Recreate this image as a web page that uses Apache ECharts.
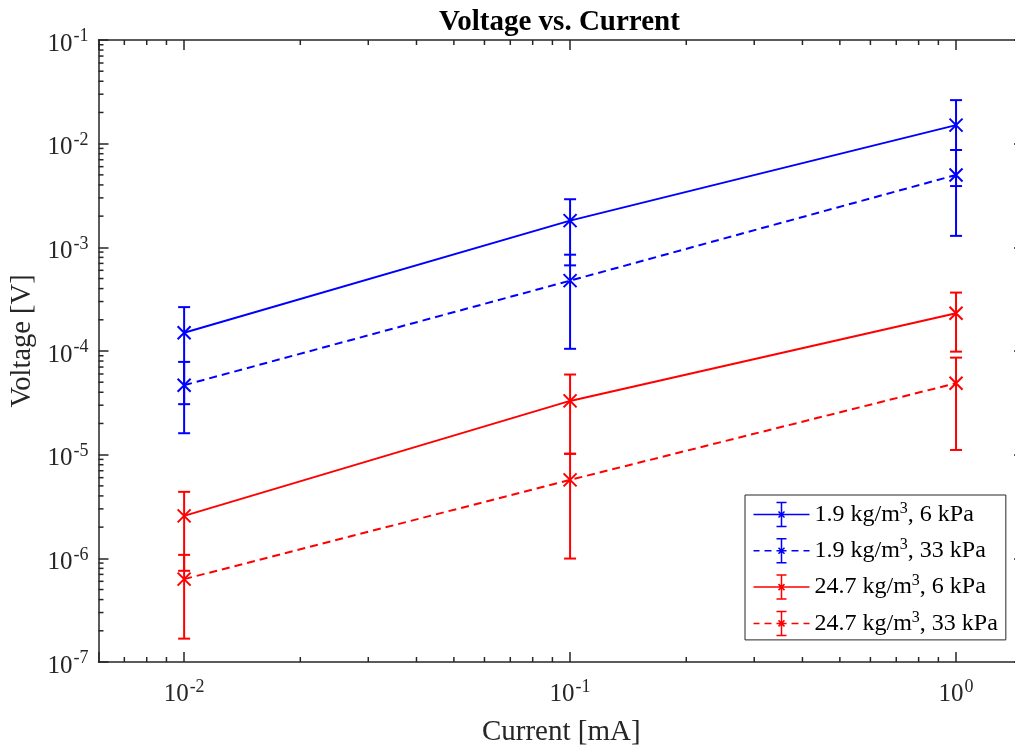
<!DOCTYPE html>
<html>
<head>
<meta charset="utf-8">
<script src="https://cdn.jsdelivr.net/npm/echarts@6/dist/echarts.min.js"></script>
<style>
  html, body { margin: 0; padding: 0; background: #fff; }
  #chart { width: 1015px; height: 745px; }
</style>
</head>
<body>
<div id="chart"></div>
<script>
// current [mA]
var current = [0.01, 0.1, 1];

// 1.9 kg/m3, 6 kPa
var v1 = [1.5e-4, 1.81e-3, 1.51e-2];
var v1Low = [3.07e-5, 6.7e-4, 3.9e-3];
var v1High = [2.65e-4, 2.91e-3, 2.63e-2];

// 1.9 kg/m3, 33 kPa
var v2 = [4.68e-5, 4.77e-4, 4.99e-3];
var v2Low = [1.61e-5, 1.05e-4, 1.29e-3];
var v2High = [7.85e-5, 8.49e-4, 8.69e-3];

// 24.7 kg/m3, 6 kPa
var v3 = [2.57e-6, 3.3e-5, 2.31e-4];
var v3Low = [7.58e-7, 1.02e-5, 9.86e-5];
var v3High = [4.38e-6, 5.93e-5, 3.66e-4];

// 24.7 kg/m3, 33 kPa
var v4 = [6.3e-7, 5.71e-6, 4.89e-5];
var v4Low = [1.68e-7, 9.95e-7, 1.11e-5];
var v4High = [1.08e-6, 1.02e-5, 8.63e-5];

var seriesNames = ["1.9 kg/m3, 6 kPa", "1.9 kg/m3, 33 kPa", "24.7 kg/m3, 6 kPa", "24.7 kg/m3, 33 kPa"];
var seriesColors = ["#0000ff", "#0000ff", "#ff0000", "#ff0000"];
var seriesDashed = [false, true, false, true];

// axis limits
var xMin = 0.006, xMax = 1.5;
var yMin = 1e-7, yMax = 1e-1;
var minorMantissa = [2, 3, 4, 5, 6, 7, 8, 9];
var xDecades = [0.001, 0.01, 0.1, 1];
var yDecades = [1e-7, 1e-6, 1e-5, 1e-4, 1e-3, 1e-2];

var FONT = "Liberation Serif";
var AXIS_COLOR = "#262626";

var minorX = [];
xDecades.forEach(function (d) {
  minorMantissa.forEach(function (m) {
    var v = m * d;
    if (v > xMin && v < xMax) minorX.push(v);
  });
});
var minorY = [];
yDecades.forEach(function (d) {
  minorMantissa.forEach(function (m) { minorY.push(m * d); });
});

function powLabel(value) {
  var e = Math.log10(value);
  var r = Math.round(e);
  if (Math.abs(e - r) > 1e-6) return "";
  return "{b|10}{s|" + r + "}";
}

var labelRich = {
  b: { fontFamily: FONT, fontSize: 25, color: AXIS_COLOR },
  s: { fontFamily: FONT, fontSize: 18, color: AXIS_COLOR, padding: [0, 0, 15, 1] }
};

function makeAxis(type, pos, min, max, main) {
  var ax = {
    type: "log",
    logBase: 10,
    position: pos,
    min: min,
    max: max,
    axisLine: { show: true, onZero: false, lineStyle: { color: AXIS_COLOR, width: 1.5 } },
    axisTick: { show: true, inside: true, length: 10, lineStyle: { color: AXIS_COLOR, width: 1.5 } },
    splitLine: { show: false },
    minorTick: { show: false },
    axisLabel: { show: false }
  };
  if (main) {
    ax.axisLabel = {
      show: true,
      formatter: powLabel,
      margin: type === "x" ? 16 : 10,
      padding: type === "x" ? 0 : [8, 0, 0, 0],
      rich: labelRich
    };
  }
  return ax;
}

var xBottom = makeAxis("x", "bottom", xMin, xMax, true);
xBottom.name = "Current [mA]";
xBottom.nameLocation = "middle";
xBottom.nameGap = 56;
xBottom.nameTextStyle = { fontFamily: FONT, fontSize: 29, color: AXIS_COLOR };
var xTop = makeAxis("x", "top", xMin, xMax, false);

var yLeft = makeAxis("y", "left", yMin, yMax, true);
yLeft.name = "Voltage [V]";
yLeft.nameLocation = "middle";
yLeft.nameGap = 58;
yLeft.nameTextStyle = { fontFamily: FONT, fontSize: 28.5, color: AXIS_COLOR, padding: [0, 0, 0, 20] };
var yRight = makeAxis("y", "right", yMin, yMax, false);

function renderErrorBar(params, api) {
  var x = api.value(0);
  var lo = api.coord([x, api.value(1)]);
  var hi = api.coord([x, api.value(2)]);
  var hw = 6;
  var style = { stroke: api.visual("color"), lineWidth: 2, fill: null };
  return {
    type: "group",
    children: [
      { type: "line", shape: { x1: lo[0], y1: lo[1], x2: hi[0], y2: hi[1] }, style: style },
      { type: "line", shape: { x1: lo[0] - hw, y1: lo[1], x2: lo[0] + hw, y2: lo[1] }, style: style },
      { type: "line", shape: { x1: hi[0] - hw, y1: hi[1], x2: hi[0] + hw, y2: hi[1] }, style: style }
    ]
  };
}

function renderXMinor(params, api) {
  var v = api.value(0);
  var b = api.coord([v, yMin]);
  var t = api.coord([v, yMax]);
  var style = { stroke: AXIS_COLOR, lineWidth: 1.5 };
  return {
    type: "group",
    children: [
      { type: "line", shape: { x1: b[0], y1: b[1], x2: b[0], y2: b[1] - 5 }, style: style },
      { type: "line", shape: { x1: t[0], y1: t[1], x2: t[0], y2: t[1] + 5 }, style: style }
    ]
  };
}

function renderYMinor(params, api) {
  var v = api.value(1);
  var l = api.coord([xMin, v]);
  var r = api.coord([xMax, v]);
  var style = { stroke: AXIS_COLOR, lineWidth: 1.5 };
  return {
    type: "group",
    children: [
      { type: "line", shape: { x1: l[0], y1: l[1], x2: l[0] + 5, y2: l[1] }, style: style },
      { type: "line", shape: { x1: r[0], y1: r[1], x2: r[0] - 5, y2: r[1] }, style: style }
    ]
  };
}

var values = [v1, v2, v3, v4];
var lows = [v1Low, v2Low, v3Low, v4Low];
var highs = [v1High, v2High, v3High, v4High];

var series = [];
values.forEach(function (vals, k) {
  series.push({
    name: seriesNames[k] + " err",
    type: "custom",
    renderItem: renderErrorBar,
    itemStyle: { color: seriesColors[k] },
    encode: { x: 0, y: [1, 2] },
    data: current.map(function (x, i) { return [x, lows[k][i], highs[k][i]]; }),
    z: 3
  });
  series.push({
    name: seriesNames[k],
    type: "line",
    data: current.map(function (x, i) { return [x, vals[i]]; }),
    symbol: "path://M0,0L10,10M10,0L0,10",
    symbolSize: 13,
    showSymbol: true,
    itemStyle: { color: "none", borderColor: seriesColors[k], borderWidth: 2 },
    lineStyle: { color: seriesColors[k], width: 2, type: seriesDashed[k] ? [8, 5] : "solid" },
    z: 4
  });
});

series.push({
  name: "xminor",
  type: "custom",
  renderItem: renderXMinor,
  data: minorX.map(function (v) { return [v, yMin]; }),
  silent: true,
  z: 2
});
series.push({
  name: "yminor",
  type: "custom",
  renderItem: renderYMinor,
  data: minorY.map(function (v) { return [xMin, v]; }),
  silent: true,
  z: 2
});

var ICON_SOLID = "path://M0,14L56,14M23,2L33,2M28,2L28,26M23,26L33,26M25,11L31,17M31,11L25,17";
var ICON_DASHED = "path://M0,14L6,14M11,14L18,14M23,14L33,14M38,14L45,14M50,14L56,14M23,2L33,2M28,2L28,26M23,26L33,26M25,11L31,17M31,11L25,17";

var legendData = seriesNames.map(function (n, k) {
  return {
    name: n,
    icon: seriesDashed[k] ? ICON_DASHED : ICON_SOLID,
    itemStyle: { color: "none", borderColor: seriesColors[k], borderWidth: 1.5 }
  };
});

var chart = echarts.init(document.getElementById("chart"), null, { renderer: "canvas" });
chart.setOption({
  animation: false,
  backgroundColor: "#fff",
  textStyle: { fontFamily: FONT },
  title: {
    text: "Voltage vs. Current",
    left: 434,
    top: 3,
    textStyle: { fontFamily: FONT, fontSize: 29, fontWeight: "bold", color: "#000" }
  },
  grid: {
    left: 98.5,
    top: 40,
    width: 925.5,
    height: 622,
    containLabel: false,
    outerBoundsMode: "none"
  },
  legend: {
    data: legendData,
    orient: "vertical",
    left: 745,
    top: 495,
    padding: [5, 8, 2, 6],
    itemWidth: 56,
    itemHeight: 28,
    itemGap: 7.3,
    backgroundColor: "#fff",
    borderColor: AXIS_COLOR,
    borderWidth: 1,
    selectedMode: false,
    formatter: function (name) {
      return name.replace("m3", "m{s|3}");
    },
    textStyle: {
      fontFamily: FONT,
      fontSize: 24,
      color: "#000",
      rich: {
        s: { fontFamily: FONT, fontSize: 16, color: "#000", padding: [0, 0, 12, 0] }
      }
    }
  },
  xAxis: [xBottom, xTop],
  yAxis: [yLeft, yRight],
  series: series
});
</script>
</body>
</html>
